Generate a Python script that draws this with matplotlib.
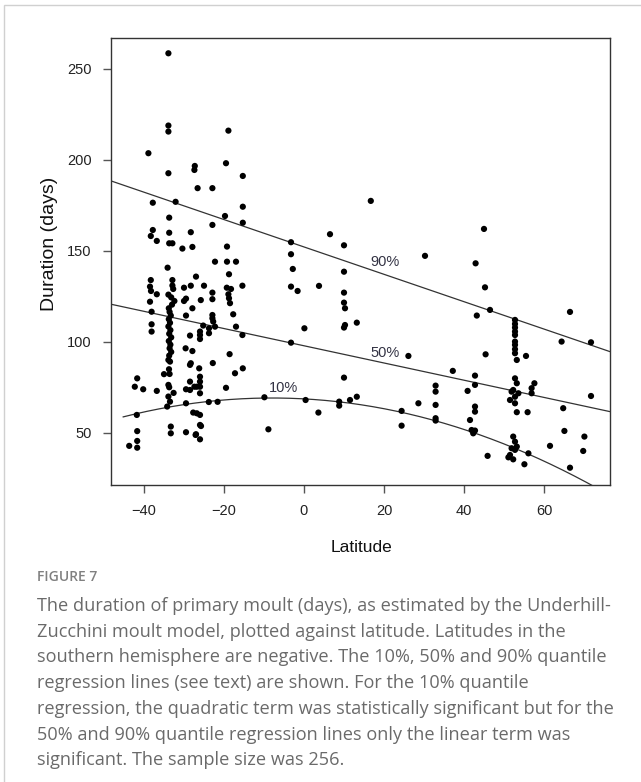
import matplotlib
matplotlib.use("Agg")
import matplotlib.pyplot as plt
from matplotlib.patches import Rectangle
import numpy as np

# moult duration (days) against latitude, one point per population
lat = [
    -43.7, -41.7, -41.7, -41.7, -41.8, -42.3, -41.7, -40.2,
    -38.9, -37.8, -38.3, -37.8, -36.8, -38.3, -38.5, -38.25, -36.8, -38.5, -38.1, -38.1, -38.1,
    -36.8, -35.0,
    -33.9, -33.9, -33.9, -33.9, -33.7, -33.7, -33.7, -32.9, -34.1, -32.9, -32.9, -32.7,
    -33.9, -33.2, -32.4, -33.0, -33.8, -33.6, -33.3, -33.8, -33.5, -33.9, -33.4, -33.7,
    -33.2, -33.8, -33.4, -33.6, -33.2, -33.7, -33.9, -33.5, -33.75, -33.6, -33.9, -33.7,
    -33.9, -33.5, -34.2, -33.3, -33.3, -32.6,
    -32.1, -30.4, -27.9, -28.3, -27.3, -27.4, -26.6, -27.0, -30.0, -28.3, -25.0, -29.5,
    -30.0, -25.8, -27.9, -29.5, -25.2, -23.75, -23.75, -22.25, -26.0, -26.0, -28.5, -26.0,
    -29.6, -27.9, -28.3, -26.2, -26.0, -26.0, -26.0, -26.0, -26.8, -27.4, -28.5, -28.5,
    -29.5, -29.5, -27.7, -26.8, -26.0, -26.0, -29.5, -27.0, -26.0, -27.1, -25.75, -28.5,
    -22.9, -19.5, -18.9, -15.3, -15.3, -19.75, -15.3, -22.9, -19.25, -22.25, -19.25, -17.0,
    -18.75, -19.3, -18.25, -18.9, -18.75, -18.5, -15.4, -22.9, -22.9, -17.7, -22.9, -22.9,
    -22.7, -17.0, -15.4, -18.6, -22.8, -17.25, -15.3, -19.5, -23.8, -21.6,
    -9.9, -8.9, 16.7, 6.5, -3.25, 10.0, -3.25, -2.8, 10.0, 30.25, -3.25, -1.6, 3.75, 10.0,
    10.0, 10.25, 0.1, 10.0, 10.25, 13.2, -3.25, 26.1, 10.0, 0.4, 3.6, 8.8, 8.8, 11.5, 13.2,
    24.4, 28.6, 24.4,
    45.0, 42.9, 45.25, 46.5, 43.2, 66.5,
    52.75, 52.75, 52.75, 52.75, 52.75, 52.75, 52.75, 52.75, 52.75, 53.2,
    55.5, 45.4, 64.4, 71.75, 37.2, 42.75, 42.75, 40.9,
    32.9, 32.9, 32.9, 32.9, 32.9,
    52.75, 53.2, 52.3, 51.9, 53.6, 52.75, 51.5, 52.75,
    57.6, 56.9, 56.9, 53.2, 55.9, 71.75, 64.8, 42.75, 42.75, 41.5, 41.9, 42.75, 42.3,
    65.1, 70.1, 52.3, 52.75, 53.2, 52.75, 51.9, 61.5, 69.8, 45.9, 51.1, 51.5, 52.3,
    56.1, 55.1, 66.5,
]
duration = [
    42.9, 45.6, 41.9, 51.0, 59.9, 75.4, 80.0, 74.0,
    203.7, 176.5, 158.2, 161.5, 155.5, 134.0, 130.4, 128.0, 126.2, 122.1, 116.6, 109.7, 105.7,
    73.1, 82.3,
    258.6, 218.9, 215.6, 192.7, 168.3, 160.0, 154.2, 154.2, 140.8, 134.0, 131.0, 129.1,
    126.0, 124.5, 122.5, 120.5, 118.5, 116.5, 114.5, 112.5, 110.5, 108.5, 106.5, 104.5,
    102.5, 100.5, 98.5, 96.5, 94.5, 92.5, 90.1, 89.2, 85.0, 82.4, 76.4, 75.1,
    70.0, 67.2, 64.5, 53.5, 49.8, 72.0,
    177.0, 151.3, 152.2, 160.3, 196.7, 194.5, 184.5, 135.9, 129.8, 130.9, 130.9, 123.8,
    122.5, 123.0, 118.5, 114.5, 109.0, 107.5, 104.8, 108.4, 105.7, 101.6, 103.5, 103.8,
    96.5, 95.0, 88.3, 85.5, 80.9, 78.2, 75.4, 71.8, 75.4, 75.4, 78.2, 73.6,
    74.0, 66.3, 61.2, 60.8, 59.9, 54.4, 50.4, 49.3, 46.5, 48.9, 53.8, 87.4,
    184.5, 198.2, 216.1, 191.2, 174.3, 169.2, 165.5, 164.3, 152.4, 144.1, 144.1, 144.1,
    137.2, 129.8, 129.1, 126.2, 124.0, 121.3, 130.9, 127.1, 123.5, 115.2, 114.8, 113.0,
    111.2, 108.4, 103.8, 93.3, 88.4, 82.8, 85.5, 74.8, 67.0, 67.1,
    69.6, 52.0, 177.5, 159.2, 154.8, 153.1, 148.2, 140.1, 138.6, 147.3, 130.4, 128.0, 130.8, 127.1,
    121.6, 118.5, 107.5, 107.9, 109.3, 110.6, 99.6, 92.3, 80.4, 68.1, 61.2, 67.2, 65.0, 68.1, 69.9,
    62.1, 66.3, 54.0,
    162.1, 143.2, 130.0, 117.6, 114.5, 116.5,
    112.1, 109.9, 107.9, 105.7, 103.8, 100.2, 98.4, 96.0, 93.8, 90.1,
    92.3, 93.2, 100.2, 99.8, 84.1, 81.5, 76.4, 73.1,
    76.0, 72.7, 65.4, 58.1, 56.8,
    80.0, 77.3, 73.6, 72.7, 71.8, 69.9, 68.1, 66.3,
    77.3, 74.6, 71.8, 61.4, 61.4, 70.3, 63.6, 64.5, 61.7, 57.1, 51.6, 51.3, 49.8,
    51.1, 48.0, 48.0, 45.2, 42.5, 40.7, 41.6, 42.9, 40.1, 37.4, 36.6, 37.9, 35.5,
    38.8, 32.8, 30.9,
]

# quantile regression fits: 90% and 50% linear, 10% quadratic
q90 = (152.2, -0.752)
q50 = (97.9, -0.473)
q10 = (68.72, -0.12, -0.0075)
q10_range = (-45.2, 73.0)

x_ticks = [-40, -20, 0, 20, 40, 60]
y_ticks = [50, 100, 150, 200, 250]

caption = ("The duration of primary moult (days), as estimated by the Underhill-\n"
           "Zucchini moult model, plotted against latitude. Latitudes in the\n"
           "southern hemisphere are negative. The 10%, 50% and 90% quantile\n"
           "regression lines (see text) are shown. For the 10% quantile\n"
           "regression, the quadratic term was statistically significant but for the\n"
           "50% and 90% quantile regression lines only the linear term was\n"
           "significant. The sample size was 256.")

W, H = 641, 782
fig = plt.figure(figsize=(W / 100, H / 100), dpi=100)
fig.patch.set_facecolor("white")

# light frame round the whole figure panel
fig.add_artist(Rectangle((3.5 / W, -0.05), 1.2, 1 - 4.5 / H + 0.05,
                         transform=fig.transFigure, fill=False,
                         edgecolor="#d0d0d0", lw=1.0))

ax = fig.add_axes([111 / W, 1 - 485 / H, (610 - 111) / W, (485 - 38) / H])
ax.set_xlim(-48.25, 76.5)
ax.set_ylim(21.4, 267)

ax.scatter(lat, duration, s=20, c="black", edgecolors="none", zorder=3)

xx = np.array([-48.25, 76.5])
ax.plot(xx, q90[0] + q90[1] * xx, color="#333333", lw=0.9)
ax.plot(xx, q50[0] + q50[1] * xx, color="#333333", lw=0.9)
xq = np.linspace(q10_range[0], q10_range[1], 200)
ax.plot(xq, q10[0] + q10[1] * xq + q10[2] * xq ** 2, color="#333333", lw=0.9)

lab_font = dict(family="Liberation Sans", fontsize=10.5, color="#333344",
                ha="center", va="center")
ax.text(20.25, 144, "90%", **lab_font)
ax.text(20.25, 94, "50%", **lab_font)
ax.text(-5.25, 74.7, "10%", **lab_font)

for s in ax.spines.values():
    s.set_color("#333333")
    s.set_linewidth(1.0)
ax.set_xticks(x_ticks)
ax.set_yticks(y_ticks)
ax.tick_params(direction="out", length=6, width=1.0, color="#555555",
               labelsize=10.5, labelcolor="#222222", pad=8)
for t in ax.get_xticklabels() + ax.get_yticklabels():
    t.set_family("Liberation Sans")

fig.text(362 / W, 1 - 547 / H, "Latitude", family="Liberation Sans",
         fontsize=12.5, color="#111111", ha="center", va="center")
fig.text(49 / W, 1 - 244 / H, "Duration (days)", family="Liberation Sans",
         fontsize=14, color="#111111", ha="center", va="center", rotation=90)

fig.text(37 / W, 1 - 577 / H, "FIGURE 7", family="Open Sans", fontsize=10,
         weight="semibold", color="#808080", ha="left", va="center")
fig.text(37 / W, 1 - 597 / H, caption, family="Open Sans", fontsize=13.1,
         color="#6a6a6a", ha="left", va="top", linespacing=1.55)

fig.savefig("out.png", dpi=100)
